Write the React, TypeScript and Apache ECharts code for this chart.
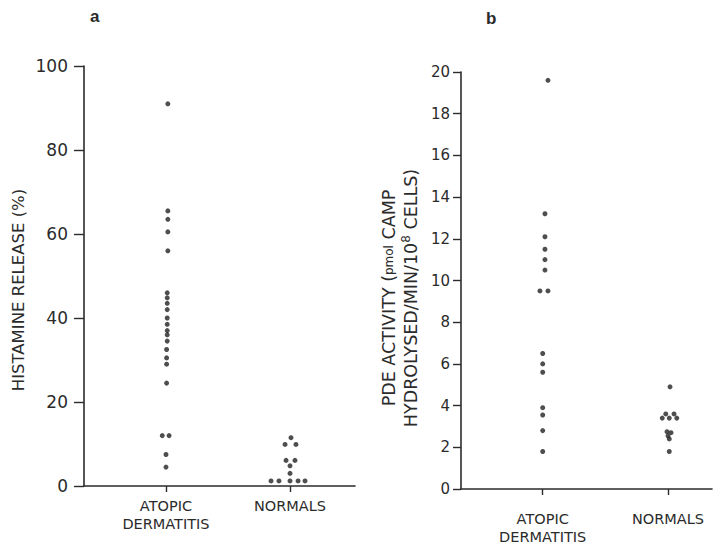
import React, { useEffect, useRef } from "react";
import * as echarts from "echarts";

const categories = ["ATOPIC\nDERMATITIS", "NORMALS"];

// Panel a: histamine release (%)
const histAtopic = [91, 65.5, 63.5, 60.5, 56, 46, 44.8, 43.5, 42, 40, 38.5, 37, 36, 34.5, 32.5, 30.5, 29, 24.5, 12, 12, 7.5, 4.5];
const histAtopicJitter = [0.015, 0.015, 0.015, 0.015, 0.015, 0.01, 0.01, 0.01, 0.01, 0.01, 0.01, 0.01, 0.01, 0.01, 0.005, 0.005, 0.005, 0.005, -0.03, 0.025, 0, 0];
const histNormals = [11.5, 9.9, 9.9, 6.1, 6.1, 4.8, 3.0, 1.2, 1.2, 1.2, 1.2, 1.2];
const histNormalsJitter = [0.008, -0.04, 0.048, -0.032, 0.04, 0, 0, -0.153, -0.089, 0, 0.065, 0.121];

// Panel b: PDE activity
const pdeAtopic = [19.6, 13.2, 12.1, 11.5, 11.0, 10.5, 9.5, 9.5, 6.5, 6.0, 5.6, 3.9, 3.55, 2.8, 1.8];
const pdeAtopicJitter = [0.042, 0.018, 0.018, 0.018, 0.018, 0.018, -0.022, 0.042, 0, 0, 0, 0, 0, 0, 0];
const pdeNormals = [4.9, 3.6, 3.6, 3.4, 3.4, 3.4, 2.75, 2.7, 2.55, 2.4, 1.8];
const pdeNormalsJitter = [0.016, -0.018, 0.048, -0.046, 0.01, 0.07, -0.008, 0.024, 0, 0.01, 0.01];

const histTicks = { min: 0, max: 100, interval: 20 };
const pdeTicks = { min: 0, max: 20, interval: 2 };

const histName = "HISTAMINE RELEASE (%)";
const pdeName = "{a|PDE ACTIVITY (}{s|pmol}{a| CAMP}\n{a|HYDROLYSED/MIN/10}{sup|8}{a| CELLS)}";

const toPoints = (vals: number[], jit: number[], cat: number) =>
  vals.map((v, i) => [cat + jit[i], v]);

const INK = "#2b2b2b";
const FONT = "DejaVu Sans";

export default function App() {
  const ref = useRef<HTMLDivElement>(null);
  useEffect(() => {
    if (!ref.current) return;
    const chart = echarts.init(ref.current, undefined, { renderer: "svg" });
    const xAxisBase = (gridIndex: number, min: number, max: number, margin: number) => ({
      type: "value" as const,
      gridIndex,
      min,
      max,
      splitLine: { show: false },
      axisLine: { show: true, onZero: false, lineStyle: { color: INK, width: 1.6 } },
      axisTick: { show: true, customValues: [0, 1], length: 6, inside: false, lineStyle: { color: INK, width: 1.4 } },
      axisLabel: {
        customValues: [0, 1],
        formatter: (v: number) => categories[Math.round(v)],
        color: INK,
        fontFamily: FONT,
        fontSize: 14.5,
        lineHeight: 18,
        margin,
        verticalAlign: "top" as const,
      },
    });
    const yAxisBase = (
      gridIndex: number,
      t: { min: number; max: number; interval: number },
      margin: number,
      fontSize: number,
      tickLen: number
    ) => ({
      type: "value" as const,
      gridIndex,
      min: t.min,
      max: t.max,
      interval: t.interval,
      splitLine: { show: false },
      axisLine: { show: true, onZero: false, lineStyle: { color: INK, width: 1.6 } },
      axisTick: { show: true, length: tickLen, lineStyle: { color: INK, width: 1.4 } },
      axisLabel: { color: INK, fontFamily: FONT, fontSize, margin },
    });
    const dot = { color: "#222" };
    chart.setOption({
      animation: false,
      backgroundColor: "#ffffff",
      textStyle: { fontFamily: FONT, color: INK },
      grid: [
        { left: 84, top: 66, width: 271, height: 420 },
        { left: 461, top: 72, width: 251, height: 421 },
      ],
      xAxis: [xAxisBase(0, -0.661, 1.524, 11), xAxisBase(1, -0.652, 1.351, 21)],
      yAxis: [yAxisBase(0, histTicks, 16, 17, 10), yAxisBase(1, pdeTicks, 11, 15, 8)],
      series: [
        { type: "scatter", xAxisIndex: 0, yAxisIndex: 0, symbolSize: 5, itemStyle: dot, data: toPoints(histAtopic, histAtopicJitter, 0) },
        { type: "scatter", xAxisIndex: 0, yAxisIndex: 0, symbolSize: 5, itemStyle: dot, data: toPoints(histNormals, histNormalsJitter, 1) },
        { type: "scatter", xAxisIndex: 1, yAxisIndex: 1, symbolSize: 5, itemStyle: dot, data: toPoints(pdeAtopic, pdeAtopicJitter, 0) },
        { type: "scatter", xAxisIndex: 1, yAxisIndex: 1, symbolSize: 5, itemStyle: dot, data: toPoints(pdeNormals, pdeNormalsJitter, 1) },
      ],
      graphic: [
        { type: "text", left: 90, top: 8, style: { text: "a", font: `bold 17px "Liberation Sans"`, fill: INK } },
        { type: "text", left: 486, top: 10, style: { text: "b", font: `bold 17px "Liberation Sans"`, fill: INK } },
        {
          type: "text",
          x: 18,
          y: 290,
          rotation: Math.PI / 2,
          style: { text: histName, font: `16.5px "${FONT}"`, fill: INK, align: "center", verticalAlign: "middle" },
        },
        {
          type: "text",
          x: 400,
          y: 298,
          rotation: Math.PI / 2,
          style: {
            text: pdeName,
            fill: INK,
            align: "center",
            verticalAlign: "middle",
            rich: {
              a: { fontSize: 17.5, fontFamily: FONT, fill: INK, lineHeight: 22 },
              s: { fontSize: 12, fontFamily: FONT, fill: INK, lineHeight: 22 },
              sup: { fontSize: 12, fontFamily: FONT, fill: INK, verticalAlign: "top", lineHeight: 14 },
            },
          },
        },
      ],
    });
    return () => chart.dispose();
  }, []);
  return (
    <div
      ref={ref}
      style={{ position: "fixed", left: 0, top: 0, width: 718, height: 546, background: "#fff" }}
    />
  );
}
